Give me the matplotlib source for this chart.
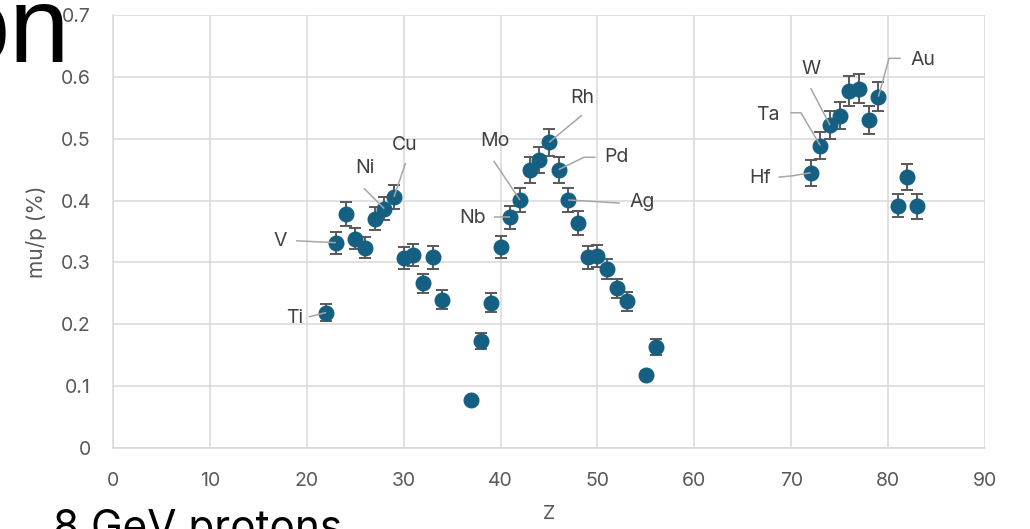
import matplotlib
matplotlib.use("Agg")
import matplotlib.pyplot as plt

# Muon-to-proton ratio per target element
z = [22, 23, 24, 25, 26, 27, 28, 29, 30, 31, 32, 33, 34,
     37, 38, 39, 40, 41, 42, 43, 44, 45, 46, 47, 48, 49, 50, 51, 52, 53, 55, 56,
     72, 73, 74, 75, 76, 77, 78, 79, 81, 82, 83]
ratio = [0.219, 0.332, 0.378, 0.338, 0.324, 0.371, 0.387, 0.406, 0.307, 0.312, 0.266, 0.308, 0.240,
         0.077, 0.173, 0.235, 0.325, 0.373, 0.401, 0.450, 0.465, 0.494, 0.450, 0.401, 0.364, 0.308,
         0.310, 0.290, 0.258, 0.237, 0.118, 0.164,
         0.445, 0.489, 0.522, 0.537, 0.577, 0.581, 0.530, 0.568, 0.392, 0.438, 0.391]
err = [0.014, 0.018, 0.019, 0.017, 0.017, 0.018, 0.019, 0.020, 0.018, 0.018, 0.016, 0.018, 0.015,
       0.005, 0.0135, 0.015, 0.018, 0.019, 0.020, 0.021, 0.021, 0.0215, 0.021, 0.020, 0.019, 0.018,
       0.018, 0.016, 0.016, 0.015, 0.006, 0.013,
       0.021, 0.022, 0.023, 0.022, 0.024, 0.024, 0.023, 0.023, 0.019, 0.021, 0.020]

# Labelled elements
label_symbols = ["Ti", "V", "Ni", "Cu", "Nb", "Mo", "Rh", "Pd", "Ag", "Hf", "Ta", "W", "Au"]
label_z = [22, 23, 28, 29, 41, 42, 45, 46, 47, 72, 73, 74, 79]

x_ticks = [0, 10, 20, 30, 40, 50, 60, 70, 80, 90]
y_ticks = [0, 0.1, 0.2, 0.3, 0.4, 0.5, 0.6, 0.7]
y_tick_labels = ["0", "0.1", "0.2", "0.3", "0.4", "0.5", "0.6", "0.7"]

# Label text placement (text anchor, alignment, leader polyline start/bend)
label_layout = {
    "Ti": dict(text=(19.6, 0.210), ha="right", path=[(20.2, 0.212)]),
    "V":  dict(text=(17.3, 0.335), ha="center", path=[(18.9, 0.335)]),
    "Ni": dict(text=(26.0, 0.453), ha="center", path=[(25.9, 0.420)]),
    "Cu": dict(text=(30.1, 0.490), ha="center", path=[(30.2, 0.461)]),
    "Nb": dict(text=(37.1, 0.372), ha="center", path=[(39.3, 0.373)]),
    "Mo": dict(text=(39.4, 0.496), ha="center", path=[(39.3, 0.464)]),
    "Rh": dict(text=(48.4, 0.566), ha="center", path=[(48.4, 0.538)]),
    "Pd": dict(text=(52.0, 0.470), ha="center", path=[(49.8, 0.470), (48.6, 0.470)]),
    "Ag": dict(text=(54.6, 0.398), ha="center", path=[(52.3, 0.396)]),
    "Hf": dict(text=(66.8, 0.436), ha="center", path=[(68.7, 0.438), (70.1, 0.440)]),
    "Ta": dict(text=(67.6, 0.538), ha="center", path=[(69.9, 0.542), (71.0, 0.542)]),
    "W":  dict(text=(72.0, 0.613), ha="center", path=[(72.0, 0.582)]),
    "Au": dict(text=(83.6, 0.627), ha="center", path=[(81.3, 0.630), (80.1, 0.630)]),
}

FONT = ["Inter", "DejaVu Sans"]
plt.rcParams["font.family"] = FONT

fig = plt.figure(figsize=(10.30, 5.29), dpi=100)
ax = fig.add_axes([0.1097, 0.1531, 0.9563 - 0.1097, 0.9716 - 0.1531])

marker_color = "#156082"
grid_color = "#d9d9d9"
tick_color = "#595959"

ax.errorbar(z, ratio, yerr=err, fmt="o", color=marker_color, ms=10.5,
            mec=marker_color, ecolor="#595959", elinewidth=1.4, capsize=4,
            capthick=1.4, zorder=3)

# Leader lines and element labels
pos = dict(zip(z, ratio))
for sym, zz in zip(label_symbols, label_z):
    lay = label_layout[sym]
    pts = lay["path"] + [(zz, pos[zz])]
    ax.plot([p[0] for p in pts], [p[1] for p in pts], color="#a6a6a6",
            lw=1.1, zorder=4, solid_capstyle="butt")
    ax.text(lay["text"][0], lay["text"][1], sym, ha=lay["ha"], va="center",
            fontsize=14, color="#404040", zorder=5)

ax.set_xlim(0, 90)
ax.set_ylim(0, 0.7)
ax.set_xticks(x_ticks)
ax.set_yticks(y_ticks)
ax.set_yticklabels(y_tick_labels)
ax.grid(True, color=grid_color, lw=1.1, zorder=0)
ax.set_axisbelow(True)
for side in ("top", "right"):
    ax.spines[side].set_visible(False)
for side in ("left", "bottom"):
    ax.spines[side].set_color(grid_color)
    ax.spines[side].set_linewidth(1.1)
ax.tick_params(length=0, labelsize=14, labelcolor=tick_color)
ax.tick_params(axis="y", pad=16)
ax.tick_params(axis="x", pad=17)

ax.set_xlabel("Z", fontsize=14, color=tick_color, labelpad=11)
ax.set_ylabel("mu/p (%)", fontsize=15, color=tick_color, labelpad=10)

# Slide text partially visible at the edges
fig.text(70 / 1030, 1 - 62 / 529, "on", ha="right", va="baseline",
         fontsize=78, color="black", family=["Liberation Sans", "DejaVu Sans"])
fig.text(53 / 1030, -12 / 529, "8 GeV protons", ha="left", va="baseline",
         fontsize=30.5, color="black")

fig.savefig("out.png", dpi=100)
